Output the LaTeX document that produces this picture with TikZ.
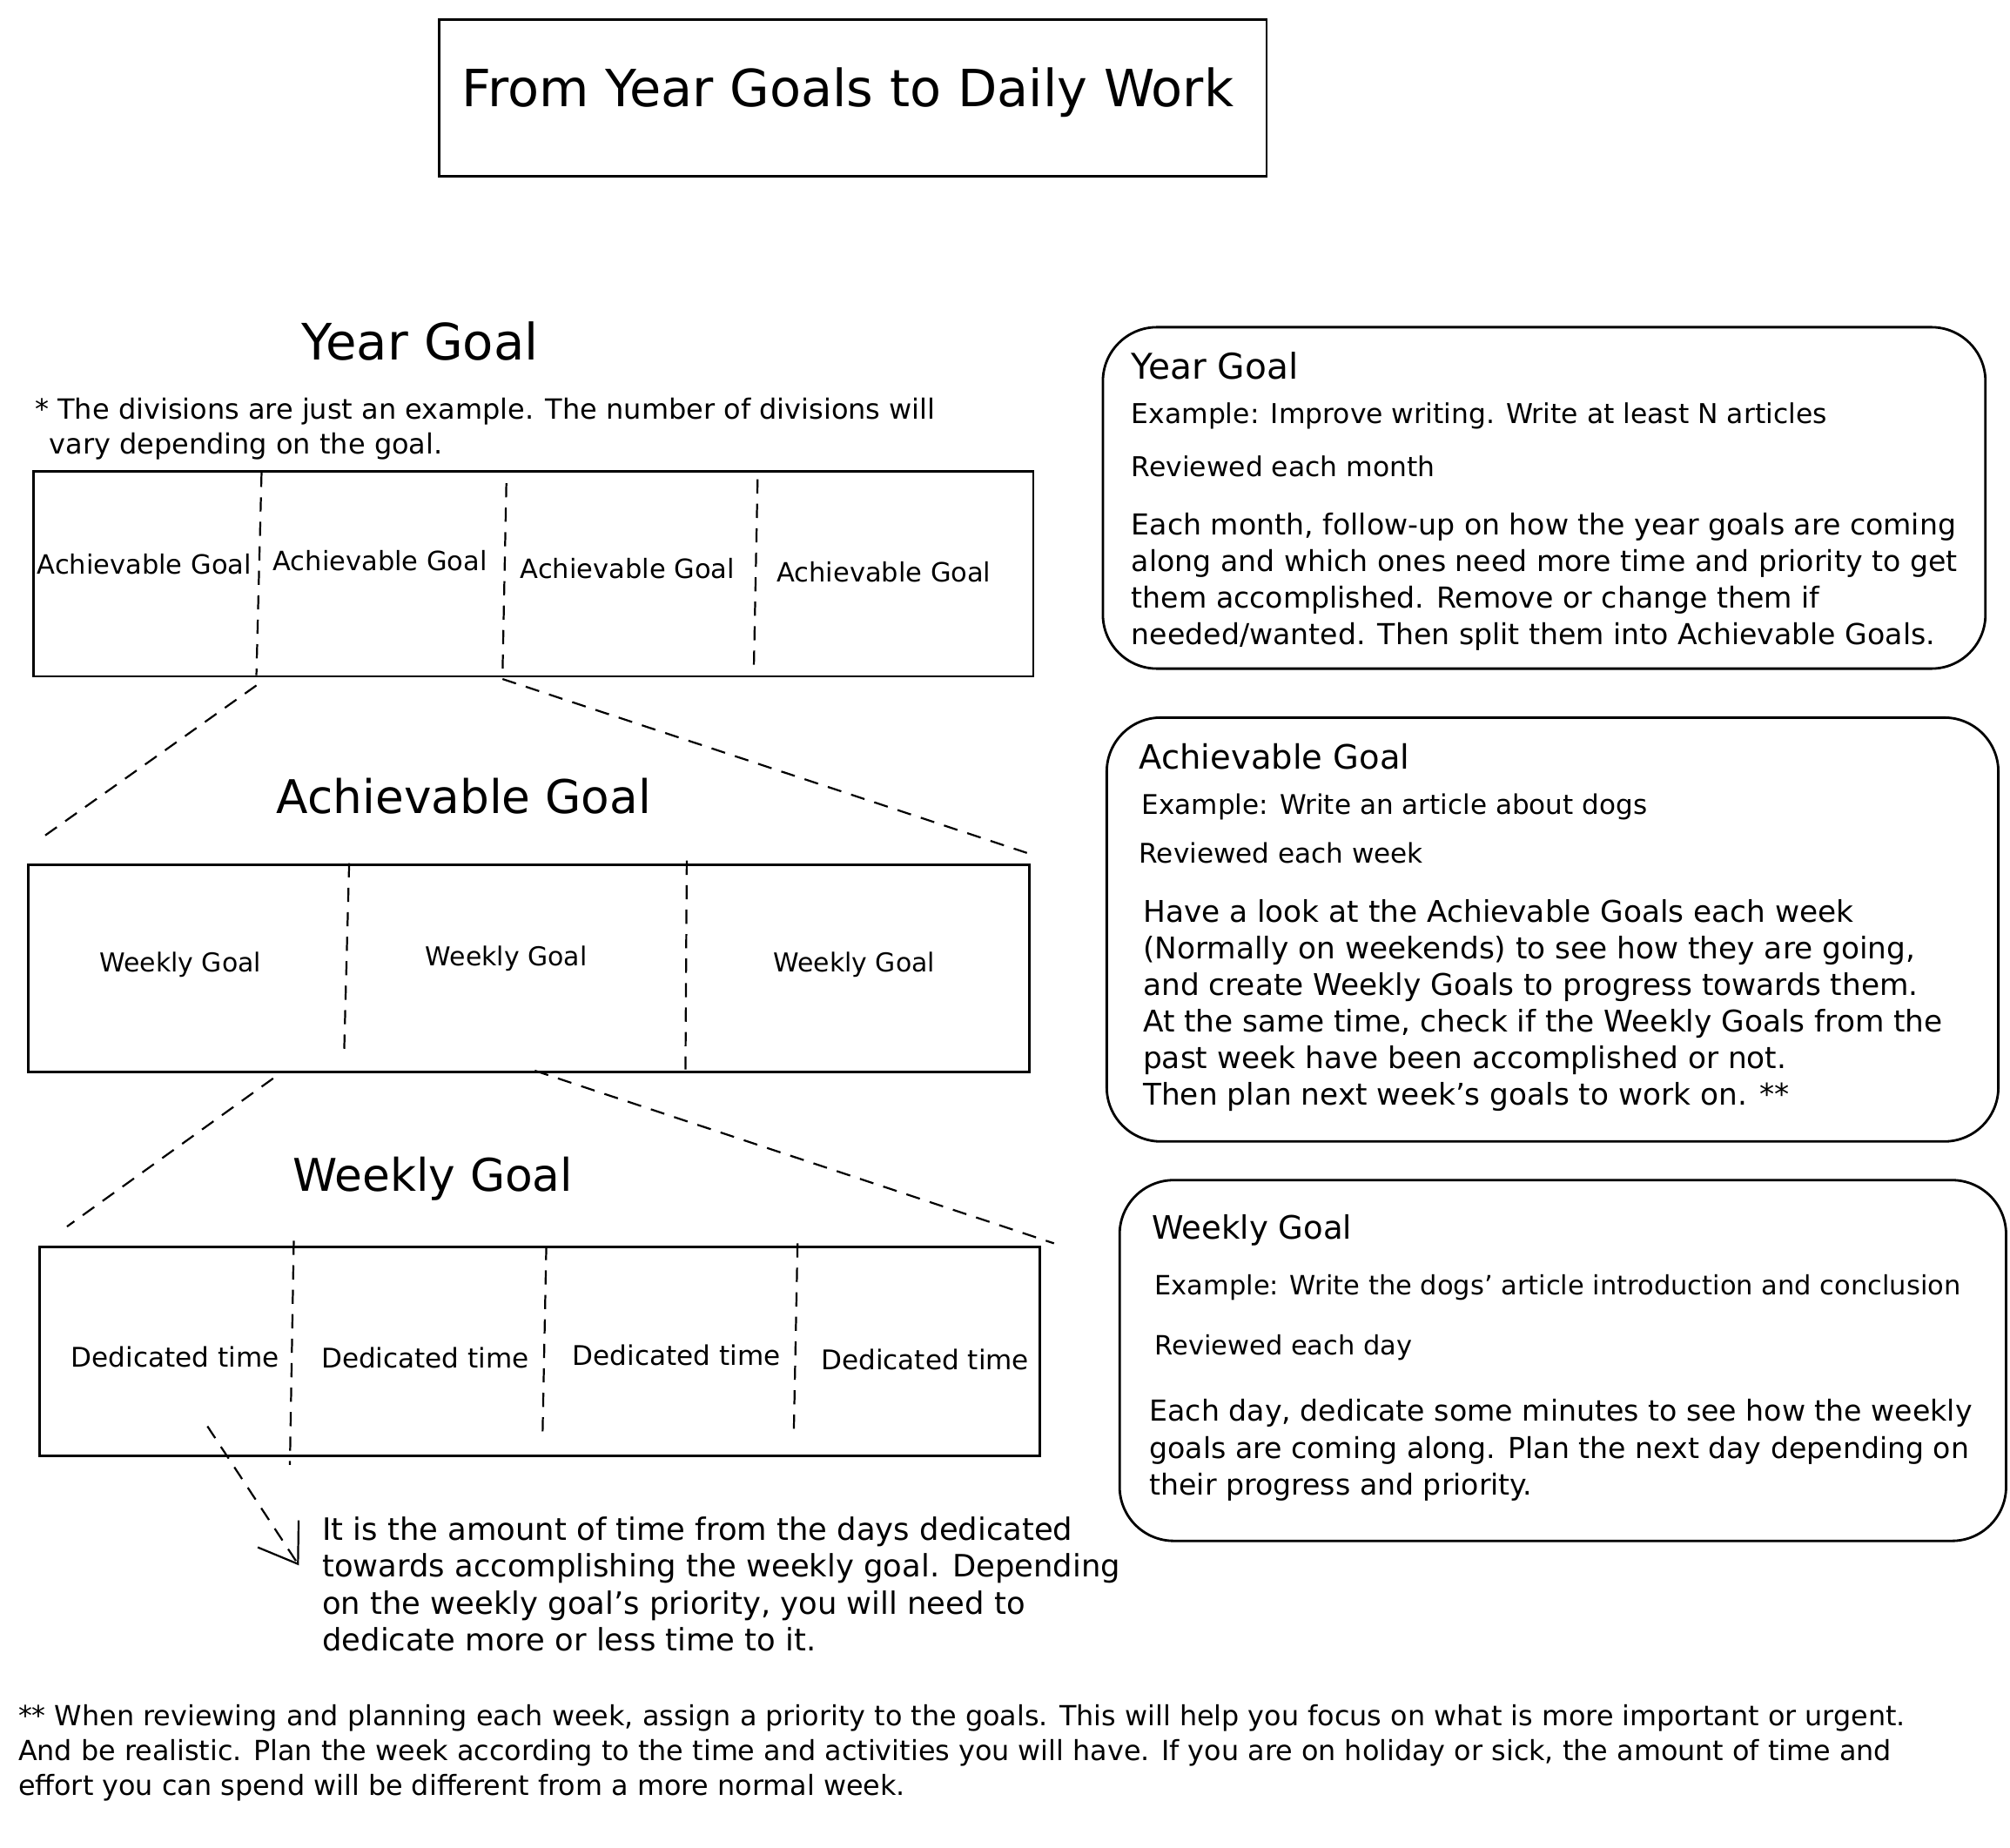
\documentclass[tikz,border=0pt]{standalone}
\usepackage{fontspec}
\setmainfont{DejaVu Sans}
\usetikzlibrary{arrows.meta}
\newcommand\fsz[2]{\fontsize{#1}{#2}\selectfont}
\begin{document}
\begin{tikzpicture}[x=1pt,y=-1pt,
  box/.style={draw, line width=1.9pt, inner sep=0pt},
  rbox/.style={draw, line width=1.9pt, rounded corners=42pt, inner sep=0pt},
  div/.style={dash pattern=on 11pt off 8pt, line width=1.5pt},
  lbl/.style={inner sep=0pt},
  para/.style={inner sep=0pt, align=left, anchor=north west}]
\useasboundingbox[fill=white] (0,0) rectangle (1560,1434);

% title
\node[box, anchor=north west, minimum width=642pt, minimum height=122pt] (titlebox) at (340,14) {};
\node[lbl, font=\fsz{39.8}{46}] (title) at (658,72) {From Year Goals to Daily Work};

% Year goal section
\node[lbl, font=\fsz{39}{44}] (yhead) at (326,265) {Year Goal};
\node[para, font=\fsz{21.6}{27}] (ynote) at (27,309) {* The divisions are just an example. The number of divisions will\\\hspace*{11pt}vary depending on the goal.};
\node[box, anchor=north west, minimum width=776pt, minimum height=159pt] (ybox) at (25,365) {};
\draw[div] (203,367) -- (199,524);
\draw[div] (393,375) -- (390,524);
\draw[div] (588,372) -- (585,522);
\node[lbl, font=\fsz{20.6}{24}] (y1) at (112,438) {Achievable Goal};
\node[lbl, font=\fsz{20.6}{24}] (y2) at (295,435) {Achievable Goal};
\node[lbl, font=\fsz{20.6}{24}] (y3) at (487,441) {Achievable Goal};
\node[lbl, font=\fsz{20.6}{24}] (y4) at (686,444) {Achievable Goal};

% Achievable goal section
\coordinate (yL) at (199,532);
\coordinate (yR) at (390,527);
\coordinate (aL) at (30,652);
\coordinate (aR) at (797,662);
\draw[div] (yL) -- (aL);
\draw[div] (yR) -- (aR);
\node[lbl, font=\fsz{36}{40}] (ahead) at (360,618) {Achievable Goal};
\node[box, anchor=north west, minimum width=777pt, minimum height=161pt] (abox) at (21,670) {};
\draw[div] (271,670) -- (267,820);
\draw[div] (533,668) -- (532,830);
\node[lbl, font=\fsz{20.2}{24}] (a1) at (140,749) {Weekly Goal};
\node[lbl, font=\fsz{20.2}{24}] (a2) at (393,744) {Weekly Goal};
\node[lbl, font=\fsz{20.2}{24}] (a3) at (663,749) {Weekly Goal};

% Weekly goal section
\coordinate (aBL) at (212,837);
\coordinate (aBR) at (415,831);
\coordinate (wL) at (52,952);
\coordinate (wR) at (818,965);
\draw[div] (aBL) -- (wL);
\draw[div] (aBR) -- (wR);
\node[lbl, font=\fsz{35}{40}] (whead) at (336,915) {Weekly Goal};
\node[box, anchor=north west, minimum width=776pt, minimum height=162pt] (wbox) at (30,967) {};
\draw[div] (228,963) -- (225,1137);
\draw[div] (424,967) -- (421,1118);
\draw[div] (619,965) -- (616,1116);
\node[lbl, font=\fsz{21}{24}] (w1) at (136,1053) {Dedicated time};
\node[lbl, font=\fsz{21}{24}] (w2) at (330,1054) {Dedicated time};
\node[lbl, font=\fsz{21}{24}] (w3) at (525,1052) {Dedicated time};
\node[lbl, font=\fsz{21}{24}] (w4) at (718,1055) {Dedicated time};

% arrow and explanation
\coordinate (arS) at (161,1107);
\coordinate (arE) at (232,1215);
\draw[div, -{Straight Barb[length=28pt, width=38pt, line width=1.5pt]}] (arS) -- (arE);
\node[para, font=\fsz{23.9}{28.7}] (expl) at (250,1177) {It is the amount of time from the days dedicated\\towards accomplishing the weekly goal. Depending\\on the weekly goal's priority, you will need to\\dedicate more or less time to it.};

% bottom note
\node[para, font=\fsz{21.5}{27}] (bnote) at (14,1323) {** When reviewing and planning each week, assign a priority to the goals. This will help you focus on what is more important or urgent.\\And be realistic. Plan the week according to the time and activities you will have. If you are on holiday or sick, the amount of time and\\effort you can spend will be different from a more normal week.};

% right box 1
\node[rbox, anchor=north west, minimum width=685pt, minimum height=265pt] (r1) at (855,253) {};
\node[lbl, anchor=west, font=\fsz{27.5}{30}] (r1t) at (878,284) {Year Goal};
\node[lbl, anchor=west, font=\fsz{21.2}{26}] (r1e) at (878,323) {Example: Improve writing. Write at least N articles};
\node[lbl, anchor=west, font=\fsz{21.2}{26}] (r1r) at (878,362) {Reviewed each month};
\node[para, font=\fsz{22.4}{28.3}] (r1p) at (878,398) {Each month, follow-up on how the year goals are coming\\along and which ones need more time and priority to get\\them accomplished. Remove or change them if\\needed/wanted. Then split them into Achievable Goals.};

% right box 2
\node[rbox, anchor=north west, minimum width=692pt, minimum height=329pt] (r2) at (858,556) {};
\node[lbl, anchor=west, font=\fsz{26}{30}] (r2t) at (884,587) {Achievable Goal};
\node[lbl, anchor=west, font=\fsz{21}{26}] (r2e) at (886,626) {Example: Write an article about dogs};
\node[lbl, anchor=west, font=\fsz{21}{26}] (r2r) at (884,662) {Reviewed each week};
\node[para, font=\fsz{23.2}{28.4}] (r2p) at (887,698) {Have a look at the Achievable Goals each week\\(Normally on weekends) to see how they are going,\\and create Weekly Goals to progress towards them.\\At the same time, check if the Weekly Goals from the\\past week have been accomplished or not.\\Then plan next week's goals to work on. **};

% right box 3
\node[rbox, anchor=north west, minimum width=688pt, minimum height=280pt] (r3) at (868,915) {};
\node[lbl, anchor=west, font=\fsz{25}{30}] (r3t) at (894,955) {Weekly Goal};
\node[lbl, anchor=west, font=\fsz{20.6}{26}] (r3e) at (896,999) {Example: Write the dogs' article introduction and conclusion};
\node[lbl, anchor=west, font=\fsz{20.6}{26}] (r3r) at (896,1046) {Reviewed each day};
\node[para, font=\fsz{22.4}{28.5}] (r3p) at (892,1086) {Each day, dedicate some minutes to see how the weekly\\goals are coming along. Plan the next day depending on\\their progress and priority.};
\end{tikzpicture}
\end{document}
